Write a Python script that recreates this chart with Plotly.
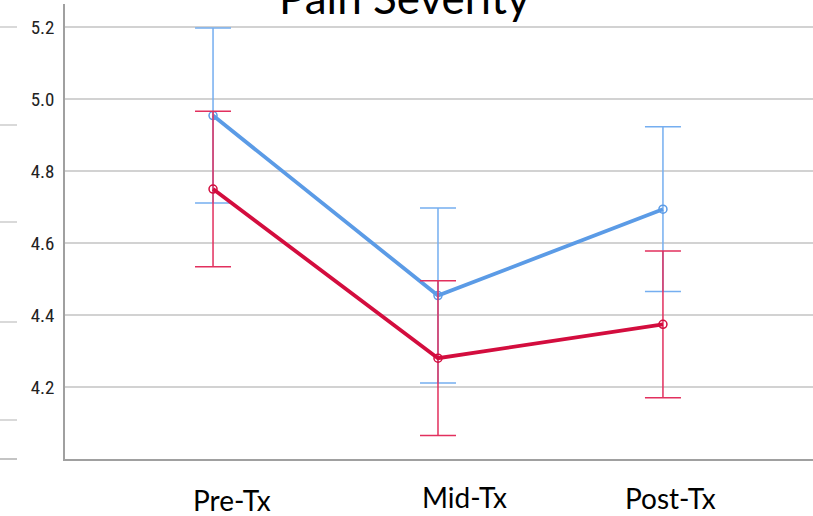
import plotly.graph_objects as go

# Treatment phases and group means with error-bar half widths
phases = ["Pre-Tx", "Mid-Tx", "Post-Tx"]
blue_means = [4.954, 4.454, 4.694]
blue_err = [0.243, 0.243, 0.229]
red_means = [4.750, 4.280, 4.374]
red_err = [0.216, 0.215, 0.204]

y_ticks = [4.2, 4.4, 4.6, 4.8, 5.0, 5.2]
y_tick_text = ["4.2", "4.4", "4.6", "4.8", "5.0", "5.2"]

BLUE = "#5b9be6"
BLUE_ERR = "#75aef0"
RED = "#d30d3e"
RED_ERR = "#e2305e"

fig = go.Figure()

for means, errs, col, ecol in [
    (blue_means, blue_err, BLUE, BLUE_ERR),
    (red_means, red_err, RED, RED_ERR),
]:
    fig.add_trace(go.Scatter(
        x=phases, y=means, mode="lines+markers",
        line=dict(color=col, width=3.8),
        marker=dict(symbol="circle-open", size=8, color=col, line=dict(width=1.5)),
        error_y=dict(type="data", array=errs, visible=True,
                     color=ecol, thickness=1.5, width=18),
        showlegend=False,
    ))

L, R, T, B = 65, 0, 4, 57
W, H = 813, 516
pw, ph = W - L - R, H - T - B


def px_x(px):
    return (px - L) / pw


def px_y(py):
    return (H - B - py) / ph


# Short stub lines on the far left edge
stub_px = [27, 125, 222, 322, 420, 459]
for i, py in enumerate(stub_px):
    fig.add_shape(type="line", xref="paper", yref="paper",
                  x0=px_x(0), x1=px_x(17), y0=px_y(py), y1=px_y(py),
                  line=dict(color="#b0b0b0" if i == len(stub_px) - 1 else "#cccccc", width=1.5))

fig.add_annotation(text="Pain Severity", xref="paper", yref="paper",
                   x=px_x(404), y=px_y(-3), xanchor="center", yanchor="middle",
                   showarrow=False, font=dict(family="Lato, Open Sans, sans-serif", size=44, color="#000000"))

# Phase captions set below the axis
label_pos = [(231.5, 480.5), (464, 477.5), (670, 478.5)]
for name, (lx, ly) in zip(phases, label_pos):
    fig.add_annotation(text=name, xref="paper", yref="paper",
                       x=px_x(lx), y=px_y(ly), xanchor="center", yanchor="top",
                       showarrow=False, font=dict(family="Lato, Open Sans, sans-serif", size=28, color="#000000"))

fig.update_layout(
    width=W, height=H,
    margin=dict(l=L, r=R, t=T, b=B, pad=0, autoexpand=False),
    paper_bgcolor="white", plot_bgcolor="white",
    xaxis=dict(range=[-0.658, 2.667], showgrid=False, showline=True, linecolor="#a0a0a0",
               linewidth=1.5, ticks="", zeroline=False, showticklabels=False, automargin=False),
    yaxis=dict(range=[4.0, 5.264], tickvals=y_ticks, ticktext=y_tick_text,
               showgrid=True, gridcolor="#d2d2d2", gridwidth=1.5, automargin=False,
               showline=True, linecolor="#a0a0a0", linewidth=1.5, ticks="", zeroline=False,
               ticklabelstandoff=5,
               tickfont=dict(family="Liberation Sans Narrow, Roboto Condensed, DejaVu Sans Condensed, Roboto",
                             size=19, color="#222222")),
)

fig.write_html("out.html")
